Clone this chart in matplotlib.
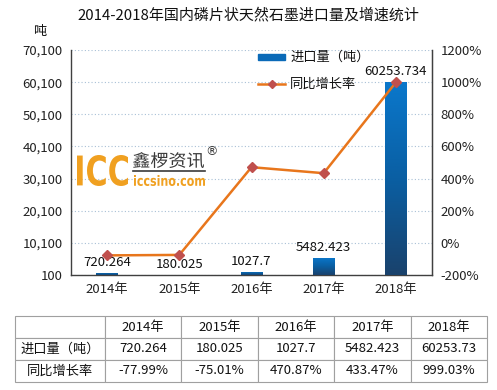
import numpy as np
import matplotlib.pyplot as plt
from matplotlib.colors import LinearSegmentedColormap
from matplotlib.textpath import TextPath
from matplotlib.font_manager import FontProperties
from matplotlib.patches import PathPatch
from matplotlib.transforms import Affine2D, IdentityTransform

plt.rcParams['font.family'] = ['Noto Sans CJK SC', 'DejaVu Sans']

# 数据
years = ['2014年', '2015年', '2016年', '2017年', '2018年']
imports = [720.264, 180.025, 1027.7, 5482.423, 60253.734]
growth = [-77.99, -75.01, 470.87, 433.47, 999.03]
import_labels = ['720.264', '180.025', '1027.7', '5482.423', '60253.734']
table_imports = ['720.264', '180.025', '1027.7', '5482.423', '60253.73']
table_growth = ['-77.99%', '-75.01%', '470.87%', '433.47%', '999.03%']
left_ticks = list(range(100, 70101, 10000))
right_ticks = list(range(-200, 1201, 200))

W, H = 497, 390
fig = plt.figure(figsize=(W / 100, H / 100), dpi=100)
ax = fig.add_axes([71/W, 1 - 275/H, 361/W, 225/H])

x = np.arange(len(years))
bars = ax.bar(x, imports, width=0.3, bottom=0, color='none', zorder=3)

# 渐变柱
cmap = LinearSegmentedColormap.from_list('g', ['#1a426c', '#0a5fa3', '#0a78cc'])
grad = np.linspace(0, 1, 256).reshape(-1, 1)
for b in bars:
    x0, w, h = b.get_x(), b.get_width(), b.get_height()
    im = ax.imshow(grad, extent=[x0, x0 + w, 0, h], origin='lower', aspect='auto',
                   cmap=cmap, zorder=3)
    im.set_clip_path(b)
ax.set_aspect('auto')
ax.set_xlim(-0.5, 4.5)
ax.set_ylim(100, 70100)

for i, lab in enumerate(import_labels):
    ax.text(x[i], imports[i] + 1200, lab, ha='center', va='bottom', fontsize=9.5,
            color='#111111', zorder=5)

ax.set_yticks(left_ticks)
ax.set_yticklabels([f'{v:,}' for v in left_ticks], fontsize=9.5, color='#222222')
ax.set_xticks(x)
ax.set_xticklabels(years, fontsize=9.5, color='#222222')
ax.tick_params(length=0, pad=6)
ax.grid(axis='y', color='#a9c0d6', linestyle=(0, (1, 2)), linewidth=0.8, zorder=0)
ax.spines['top'].set_visible(False)
for s in ['left', 'bottom', 'right']:
    ax.spines[s].set_color('#404040')
    ax.spines[s].set_linewidth(1.0)

ax2 = ax.twinx()
ax2.plot(x, growth, color='#e8761c', linewidth=1.8, marker='D', markersize=5,
         markerfacecolor='#c0504d', markeredgecolor='#c0504d', zorder=4)
ax2.set_ylim(-200, 1200)
ax2.set_yticks(right_ticks)
ax2.set_yticklabels([f'{v}%' for v in right_ticks], fontsize=9.5, color='#222222')
ax2.tick_params(length=0, pad=6)
ax2.spines['top'].set_visible(False)
ax2.spines['right'].set_color('#404040')
ax2.spines['left'].set_visible(False)
ax2.spines['bottom'].set_visible(False)

fig.text(0.5, 1 - 15/H, '2014-2018年国内磷片状天然石墨进口量及增速统计', ha='center',
         va='center', fontsize=10.8, color='#111111')
fig.text(40/W, 1 - 31/H, '吨', ha='center', va='center', fontsize=9.5, color='#111111')

# 图例
fig.patches.append(plt.Rectangle((258/W, 1 - 60/H), 27/W, 6/H,
                                 transform=fig.transFigure, color='#0a6ab8'))
fig.text(290/W, 1 - 57/H, '进口量（吨）', va='center', fontsize=9.5, color='#111111')
fig.lines.append(plt.Line2D([258/W, 285/W], [1 - 84/H] * 2, transform=fig.transFigure,
                            color='#e8761c', linewidth=1.8))
fig.lines.append(plt.Line2D([271.5/W], [1 - 84/H], transform=fig.transFigure,
                            marker='D', markersize=4.2, color='#c0504d'))
fig.text(290/W, 1 - 84/H, '同比增长率', va='center', fontsize=9.5, color='#111111')


# 水印 logo
def logo_text(s, box, color, weight='bold', family='DejaVu Sans'):
    # box: 左, 上, 右, 下 (像素, 从上往下)
    tp = TextPath((0, 0), s, size=1, prop=FontProperties(family=family, weight=weight))
    ext = tp.get_extents()
    l, t, r, b = box
    sx = (r - l) / ext.width
    sy = (b - t) / ext.height
    tr = Affine2D().translate(-ext.x0, -ext.y0).scale(sx, sy).translate(l, H - b)
    fig.patches.append(PathPatch(tr.transform_path(tp), facecolor=color, edgecolor='none',
                                 transform=IdentityTransform()))


logo_text('ICC', (77, 155, 128, 186), '#f0a020')
logo_text('鑫椤资讯', (133, 152, 204, 168), '#3a3a3a', weight='normal',
          family='Noto Sans CJK SC')
fig.text(205/W, 1 - 152/H, '®', fontsize=9, color='#3a3a3a', va='center', ha='left',
         family='DejaVu Sans')
fig.lines.append(plt.Line2D([133/W, 205/W], [1 - 171/H] * 2, transform=fig.transFigure,
                            color='#3a3a3a', linewidth=1.2))
logo_text('iccsino.com', (134, 175, 205, 186), '#f0a020')

# 表格
tab_ax = fig.add_axes([15/W, 1 - 382/H, 472/W, 66/H])
tab_ax.axis('off')
cells = [[''] + years, ['进口量（吨）'] + table_imports, ['同比增长率'] + table_growth]
col_w = [91] + [77.2] * 5
tot = sum(col_w)
tbl = tab_ax.table(cellText=cells, bbox=[0, 0, 1, 1], cellLoc='center',
                   colWidths=[c / tot for c in col_w])
tbl.auto_set_font_size(False)
for (r, c), cell in tbl.get_celld().items():
    cell.set_edgecolor('#a0a0a0')
    cell.set_linewidth(0.8)
    cell.get_text().set_fontsize(9.5)
    cell.get_text().set_color('#111111')

fig.savefig('out.png', dpi=100)
